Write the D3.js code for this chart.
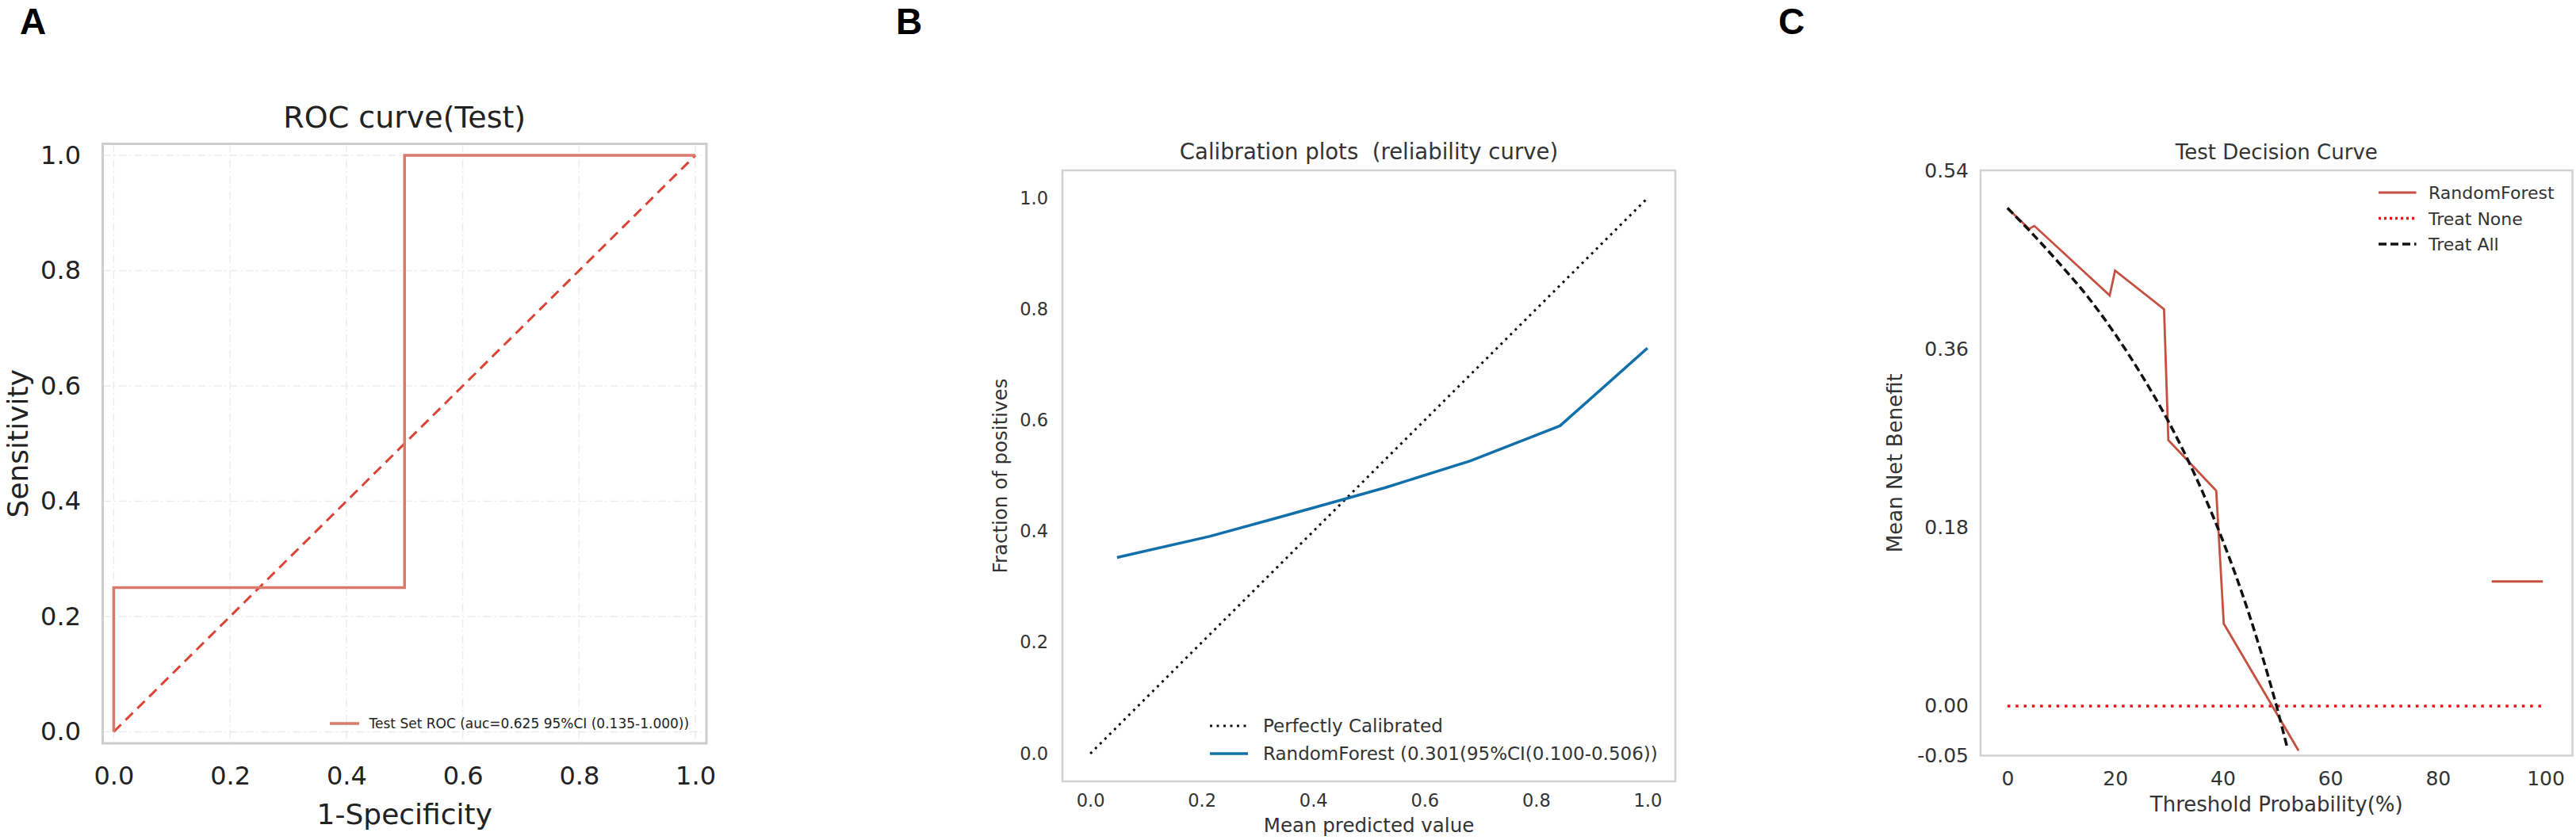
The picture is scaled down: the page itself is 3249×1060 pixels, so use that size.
<!DOCTYPE html>
<html>
<head>
<meta charset="utf-8">
<script src="https://cdn.jsdelivr.net/npm/d3@7"></script>
<style>
  body { margin: 0; background: #fff; }
  svg { display: block; font-family: "DejaVu Sans", sans-serif; }
  svg text { white-space: pre; }
</style>
</head>
<body>
<div class="figure"></div>
<script>
// ROC (panel A)
const rocFpr = [0, 0, 0.5, 0.5, 1.0];
const rocTpr = [0, 0.25, 0.25, 1.0, 1.0];
const chanceX = [0, 1];
const chanceY = [0, 1];
const rocTicks = [0, 0.2, 0.4, 0.6, 0.8, 1.0];

// Calibration (panel B)
const perfectX = [0, 1];
const perfectY = [0, 1];
const calPredicted = [0.048, 0.214, 0.334, 0.459, 0.53, 0.682, 0.843, 1.0];
const calFraction = [0.353, 0.391, 0.424, 0.459, 0.479, 0.527, 0.59, 0.73];
const calTicks = [0, 0.2, 0.4, 0.6, 0.8, 1.0];

// Decision curve (panel C)
const rfThreshold = [0, 4, 5, 19, 20, 29.1, 29.9, 38.8, 40.2, 54.1];
const rfBenefit = [0.502, 0.481, 0.484, 0.414, 0.439, 0.4, 0.268, 0.217, 0.083, -0.045];
const rfTailThreshold = [90, 99.5];
const rfTailBenefit = [0.1255, 0.1255];
const noneThreshold = [0, 100];
const noneBenefit = [0, 0];
const allThreshold = [0, 5, 10, 15, 20, 25, 30, 35, 40, 45, 50, 52];
const allBenefit = [0.502, 0.474, 0.444, 0.412, 0.375, 0.333, 0.286, 0.231, 0.167, 0.091, 0.0, -0.042];
const dcaXTicks = [0, 20, 40, 60, 80, 100];
const dcaYTicks = [0.54, 0.36, 0.18, 0.0, -0.05];

const W = 3249, H = 1060;
const rocColor = "#d97a6c";
const chanceColor = "#d94436";
const calColor = "#1170aa";
const rfColor = "#c6503f";

const svg = d3.select(".figure").append("svg")
  .attr("width", W).attr("height", H);

const zip = (xs, ys) => xs.map((x, i) => ({ x, y: ys[i] }));

function axes(g, x, y, o) {
  const yAxis = d3.axisLeft(y).tickValues(o.yTicks).tickSize(0)
    .tickPadding(o.yPad).tickFormat(o.yFmt);
  const xAxis = d3.axisBottom(x).tickValues(o.xTicks).tickSize(0)
    .tickPadding(o.xPad).tickFormat(o.xFmt);

  g.append("g")
    .attr("transform", `translate(${x.range()[0]},0)`)
    .call(yAxis)
    .call((a) => a.select(".domain").remove())
    .call((a) => a.selectAll("text")
      .attr("font-size", o.tickSize).attr("font-family", "DejaVu Sans")
      .attr("fill", o.color));

  g.append("g")
    .attr("transform", `translate(0,${y.range()[0]})`)
    .call(xAxis)
    .call((a) => a.select(".domain").remove())
    .call((a) => a.selectAll("text")
      .attr("font-size", o.tickSize).attr("font-family", "DejaVu Sans")
      .attr("fill", o.color));
}

function frame(g, x, y, stroke, width) {
  const [x0, x1] = x.range();
  const [y0, y1] = y.range();
  g.append("rect")
    .attr("x", x0).attr("y", y1)
    .attr("width", x1 - x0).attr("height", y0 - y1)
    .attr("fill", "none").attr("stroke", stroke).attr("stroke-width", width);
}

function labels(g, x, y, o) {
  const cx = (x.range()[0] + x.range()[1]) / 2;
  const cy = (y.range()[0] + y.range()[1]) / 2;
  g.append("text").attr("x", cx).attr("y", o.titleY)
    .attr("text-anchor", "middle").attr("font-size", o.titleSize)
    .attr("fill", o.color).text(o.title);
  g.append("text").attr("x", cx).attr("y", o.xLabelY)
    .attr("text-anchor", "middle").attr("font-size", o.labelSize)
    .attr("fill", o.color).text(o.xLabel);
  g.append("text")
    .attr("transform", `translate(${o.yLabelX},${cy}) rotate(-90)`)
    .attr("text-anchor", "middle").attr("font-size", o.labelSize)
    .attr("fill", o.color).text(o.yLabel);
}

function panelLetter(letter, x) {
  svg.append("text").attr("x", x).attr("y", 43)
    .attr("font-family", "Liberation Sans, Arial, sans-serif")
    .attr("font-weight", "bold").attr("font-size", 46)
    .text(letter);
}

// ---------- A: ROC ----------
{
  const g = svg.append("g");
  const x = d3.scaleLinear().domain([-0.019, 1.019]).range([129.5, 891]);
  const y = d3.scaleLinear().domain([-0.02, 1.02]).range([938, 181.5]);

  // grid
  g.append("g").selectAll("line").data(rocTicks).join("line")
    .attr("x1", (d) => x(d)).attr("x2", (d) => x(d))
    .attr("y1", y.range()[1]).attr("y2", y.range()[0])
    .attr("stroke", "#ececec").attr("stroke-width", 1.5)
    .attr("stroke-dasharray", "10,4,2,4");
  g.append("g").selectAll("line").data(rocTicks).join("line")
    .attr("y1", (d) => y(d)).attr("y2", (d) => y(d))
    .attr("x1", x.range()[0]).attr("x2", x.range()[1])
    .attr("stroke", "#ececec").attr("stroke-width", 1.5)
    .attr("stroke-dasharray", "10,4,2,4");

  frame(g, x, y, "#cdcdcd", 3);
  axes(g, x, y, {
    yTicks: rocTicks, xTicks: rocTicks, yPad: 27.5, xPad: 29,
    yFmt: d3.format(".1f"), xFmt: d3.format(".1f"),
    tickSize: 32, color: "#222"
  });

  const line = d3.line().x((d) => x(d.x)).y((d) => y(d.y));
  g.append("path").datum(zip(chanceX, chanceY))
    .attr("fill", "none").attr("stroke", chanceColor).attr("stroke-width", 3)
    .attr("stroke-dasharray", "13,8").attr("d", line);
  g.append("path").datum(zip(rocFpr, rocTpr))
    .attr("fill", "none").attr("stroke", rocColor).attr("stroke-width", 3.5)
    .attr("d", line);

  labels(g, x, y, {
    title: "ROC curve(Test)", titleY: 161, titleSize: 38,
    xLabel: "1-Specificity", xLabelY: 1040,
    yLabel: "Sensitivity", yLabelX: 35, labelSize: 36, color: "#222"
  });

  // legend
  g.append("line").attr("x1", 416).attr("x2", 453).attr("y1", 913).attr("y2", 913)
    .attr("stroke", rocColor).attr("stroke-width", 3.5);
  g.append("text").attr("x", 465.5).attr("y", 919).attr("font-size", 17)
    .attr("fill", "#222").text("Test Set ROC (auc=0.625 95%CI (0.135-1.000))");

  panelLetter("A", 25);
}

// ---------- B: calibration ----------
{
  const g = svg.append("g");
  const x = d3.scaleLinear().domain([-0.05, 1.05]).range([1340, 2113]);
  const y = d3.scaleLinear().domain([-0.05, 1.05]).range([986, 215]);

  frame(g, x, y, "#d2d2d2", 2.5);
  axes(g, x, y, {
    yTicks: calTicks, xTicks: calTicks, yPad: 18, xPad: 16,
    yFmt: d3.format(".1f"), xFmt: d3.format(".1f"),
    tickSize: 22.5, color: "#333"
  });

  const line = d3.line().x((d) => x(d.x)).y((d) => y(d.y));
  g.append("path").datum(zip(perfectX, perfectY))
    .attr("fill", "none").attr("stroke", "#111").attr("stroke-width", 3)
    .attr("stroke-dasharray", "3,5.5").attr("d", line);
  g.append("path").datum(zip(calPredicted, calFraction))
    .attr("fill", "none").attr("stroke", calColor).attr("stroke-width", 3.5)
    .attr("stroke-linejoin", "round").attr("d", line);

  labels(g, x, y, {
    title: "Calibration plots  (reliability curve)", titleY: 201, titleSize: 27.5,
    xLabel: "Mean predicted value", xLabelY: 1050,
    yLabel: "Fraction of positives", yLabelX: 1270, labelSize: 24.5, color: "#333"
  });

  // legend
  g.append("line").attr("x1", 1526).attr("x2", 1574).attr("y1", 916).attr("y2", 916)
    .attr("stroke", "#111").attr("stroke-width", 3).attr("stroke-dasharray", "3,5.5");
  g.append("line").attr("x1", 1526).attr("x2", 1574).attr("y1", 951).attr("y2", 951)
    .attr("stroke", calColor).attr("stroke-width", 3.5);
  g.append("text").attr("x", 1593).attr("y", 924).attr("font-size", 23)
    .attr("fill", "#333").text("Perfectly Calibrated");
  g.append("text").attr("x", 1593).attr("y", 959).attr("font-size", 23)
    .attr("fill", "#333").text("RandomForest (0.301(95%CI(0.100-0.506))");

  panelLetter("B", 1130);
}

// ---------- C: decision curve ----------
{
  const g = svg.append("g");
  const x = d3.scaleLinear().domain([-5, 105]).range([2498, 3244.5]);
  const y = d3.scaleLinear().domain([-0.05, 0.54]).range([953.5, 215]);

  frame(g, x, y, "#d2d2d2", 2.5);
  axes(g, x, y, {
    yTicks: dcaYTicks, xTicks: dcaXTicks, yPad: 15, xPad: 20,
    yFmt: (d) => d.toFixed(2), xFmt: d3.format("d"),
    tickSize: 25, color: "#333"
  });

  const line = d3.line().x((d) => x(d.x)).y((d) => y(d.y));
  g.append("path").datum(zip(noneThreshold, noneBenefit))
    .attr("fill", "none").attr("stroke", "#f01010").attr("stroke-width", 3.5)
    .attr("stroke-dasharray", "3.5,6.8").attr("d", line);
  g.append("path").datum(zip(rfThreshold, rfBenefit))
    .attr("fill", "none").attr("stroke", rfColor).attr("stroke-width", 2.8)
    .attr("d", line);
  g.append("path").datum(zip(rfTailThreshold, rfTailBenefit))
    .attr("fill", "none").attr("stroke", rfColor).attr("stroke-width", 3)
    .attr("d", line);
  g.append("path").datum(zip(allThreshold, allBenefit))
    .attr("fill", "none").attr("stroke", "#111").attr("stroke-width", 3.5)
    .attr("stroke-dasharray", "10,5")
    .attr("d", line.curve(d3.curveMonotoneX));

  labels(g, x, y, {
    title: "Test Decision Curve", titleY: 201, titleSize: 26,
    xLabel: "Threshold Probability(%)", xLabelY: 1023.5,
    yLabel: "Mean Net Benefit", yLabelX: 2399, labelSize: 26, color: "#333"
  });

  // legend
  const legendItems = [
    { name: "RandomForest", color: rfColor, dash: null, w: 3 },
    { name: "Treat None", color: "#f01010", dash: "3,4", w: 3.5 },
    { name: "Treat All", color: "#111", dash: "10,5", w: 3.5 }
  ];
  const legend = g.append("g").selectAll("g").data(legendItems).join("g")
    .attr("transform", (d, i) => `translate(3000,${243 + i * 32.5})`);
  legend.append("line").attr("x1", 0).attr("x2", 47.5)
    .attr("stroke", (d) => d.color).attr("stroke-width", (d) => d.w)
    .attr("stroke-dasharray", (d) => d.dash);
  legend.append("text").attr("x", 63).attr("y", 8).attr("font-size", 22)
    .attr("fill", "#333").text((d) => d.name);

  panelLetter("C", 2243);
}
</script>
</body>
</html>
